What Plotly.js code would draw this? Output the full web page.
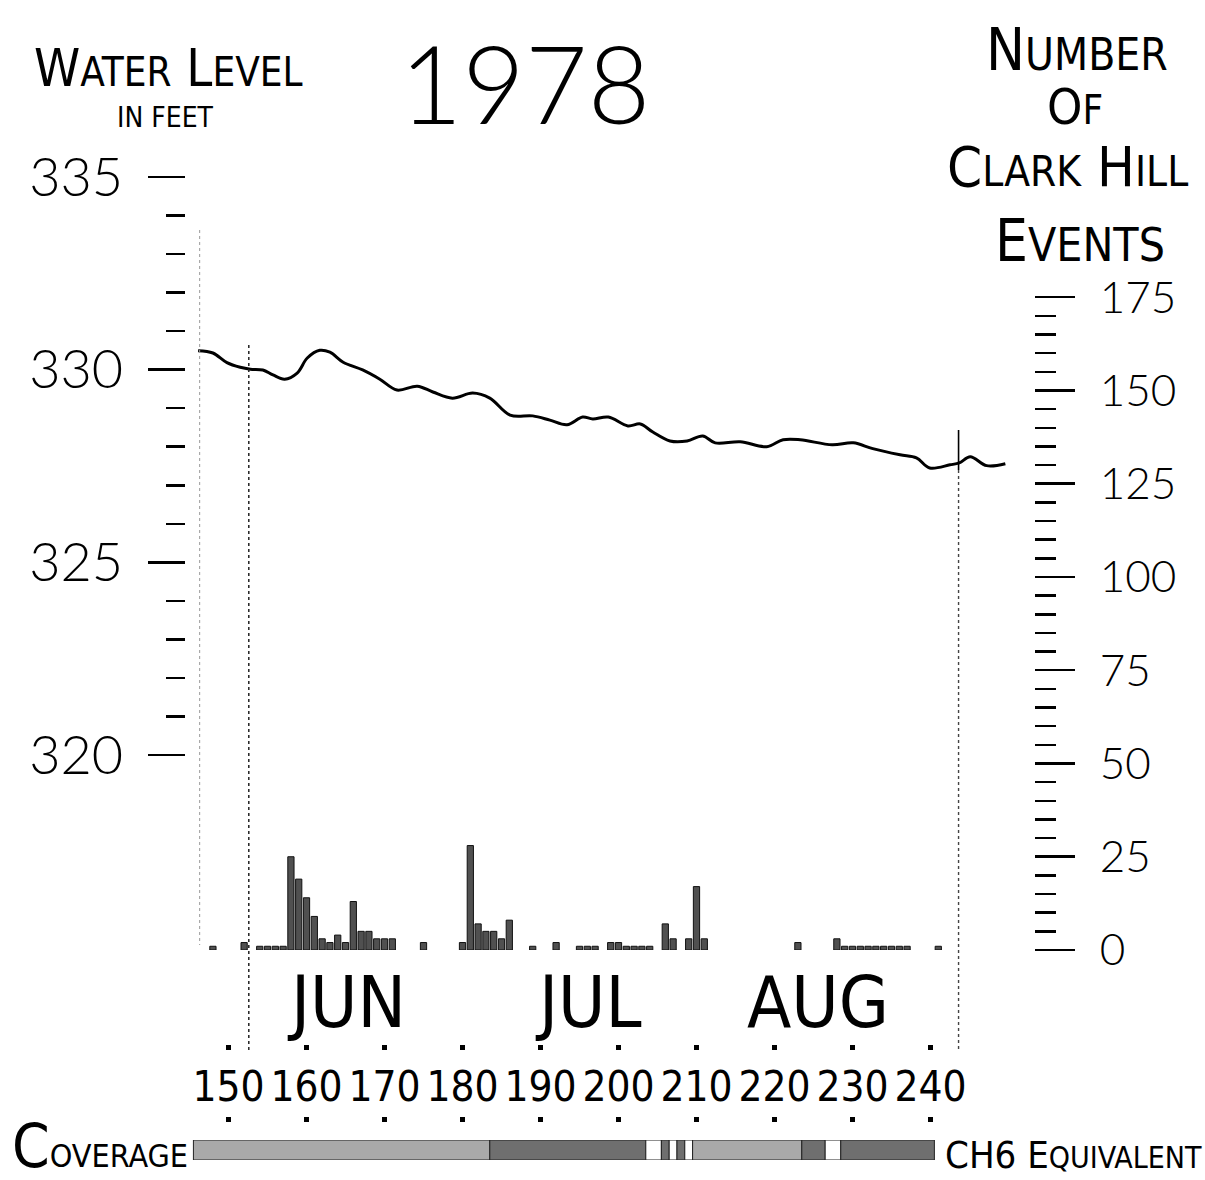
<!DOCTYPE html>
<html><head><meta charset="utf-8">
<script src="https://cdn.plot.ly/plotly-3.0.1.min.js"></script>
<style>html,body{margin:0;padding:0;background:#fff}</style>
</head><body>
<div id="chart" style="width:1205px;height:1180px"></div>
<script>
// ---- data (day of year 1978) ----
const levelDays = [146.1,148.0,149.8,151.5,152.8,154.4,155.7,157.2,158.8,160.1,161.7,163.0,164.7,167.2,169.4,171.6,174.2,176.2,178.7,181.3,183.5,186.1,189.0,191.2,193.4,195.4,196.7,198.7,201.2,202.8,204.4,206.6,208.8,210.8,212.4,215.6,219.0,221.1,223.3,227.4,230.1,232.6,236.1,238.2,239.9,242.5,243.7,245.1,247.2,249.6];
const levelFeet = [330.49,330.43,330.18,330.06,330.01,329.99,329.86,329.75,329.91,330.30,330.50,330.45,330.19,329.99,329.75,329.47,329.57,329.42,329.26,329.39,329.26,328.82,328.80,328.69,328.57,328.77,328.72,328.77,328.54,328.59,328.38,328.15,328.15,328.28,328.10,328.13,328.00,328.18,328.18,328.05,328.10,327.95,327.79,327.71,327.45,327.53,327.58,327.74,327.51,327.56];

const eventDays   = [148,152,154,155,156,157,158,159,160,161,162,163,164,165,166,167,168,169,170,171,175,180,181,182,183,184,185,186,189,192,195,196,197,199,200,201,202,203,204,206,207,209,210,211,223,228,229,230,231,232,233,234,235,236,237,241];
const eventCounts = [1,2,1,1,1,1,25,19,14,9,3,2,4,2,13,5,5,3,3,3,2,2,28,7,5,5,3,8,1,2,1,1,1,2,2,1,1,1,1,7,3,3,17,3,2,3,1,1,1,1,1,1,1,1,1,1];

// coverage strip segments (day edges) and kind
const coverageStart = [145.5,183.5,203.5,205.5,206.5,207.5,208.5,209.5,223.5,226.5,228.5];
const coverageEnd   = [183.5,203.5,205.5,206.5,207.5,208.5,209.5,223.5,226.5,228.5,240.5];
const coverageKind  = ['light','dark','none','dark','none','dark','none','light','dark','none','dark'];

const xTickVals = [150,160,170,180,190,200,210,220,230,240];
const xTickText = ['150','160','170','180','190','200','210','220','230','240'];
const monthNames = ['JUN','JUL','AUG'];
const guideDays = [146.3,152.6,243.6];

// ---- helpers ----
const W = 1205, H = 1180;
const px = x => x / W;
const py = y => 1 - y / H;
const HAND = "'Liberation Sans Narrow','DejaVu Sans Condensed','Arial Narrow',sans-serif";
const THIN = "Lato,'Open Sans','DejaVu Sans',sans-serif";
const xDomain = [px(185), px(1030)];
const xRange = [144.42, 252.76];

const kindColor = {light:'#a9a9a9', dark:'#6f6f6f', none:'#ffffff'};

const traces = [
  {
    type:'scatter', mode:'lines', x: levelDays, y: levelFeet,
    xaxis:'x', yaxis:'y',
    line:{color:'#000', width:3, shape:'spline', smoothing:1},
    cliponaxis:false, hoverinfo:'skip', showlegend:false
  },
  {
    type:'bar', x: eventDays, y: eventCounts, xaxis:'x2', yaxis:'y2',
    width:0.8,
    marker:{color:'#505050', line:{color:'#111', width:1}},
    hoverinfo:'skip', showlegend:false
  },
  {
    type:'bar',
    x: coverageStart.map((s,i)=> (s+coverageEnd[i])/2),
    y: coverageStart.map(()=>1),
    width: coverageStart.map((s,i)=> coverageEnd[i]-s),
    xaxis:'x3', yaxis:'y3',
    marker:{color: coverageKind.map(k=>kindColor[k]),
            line:{color:'#222', width:1}},
    hoverinfo:'skip', showlegend:false
  }
];

const dotAxis = (pos) => ({
  domain: xDomain, range: xRange, anchor:'free', position: pos,
  showline:false, showgrid:false, zeroline:false,
  tickmode:'array', tickvals: xTickVals, tickangle:0,
  ticks:'outside', ticklen:5, tickwidth:5, tickcolor:'#000'
});

const xaxis = Object.assign(dotAxis(py(1044)), {
  ticktext: xTickText, showticklabels:true, ticklabelstandoff:1,
  tickfont:{family:HAND, size:42, color:'#000'}
});
const xaxis3 = Object.assign(dotAxis(py(1116)), {
  showticklabels:false, overlaying:'x'
});

const shapes = [];
shapes.push({type:'line', xref:'x', yref:'paper', x0:guideDays[0], x1:guideDays[0], y0:py(230), y1:py(945),
  line:{color:'#999', width:1, dash:'dot'}});
shapes.push({type:'line', xref:'x', yref:'paper', x0:guideDays[1], x1:guideDays[1], y0:py(345), y1:py(1050),
  line:{color:'#222', width:1.5, dash:'dot'}});
shapes.push({type:'line', xref:'x', yref:'paper', x0:guideDays[2], x1:guideDays[2], y0:py(430), y1:py(470),
  line:{color:'#000', width:1.6}});
shapes.push({type:'line', xref:'x', yref:'paper', x0:guideDays[2], x1:guideDays[2], y0:py(470), y1:py(1050),
  line:{color:'#444', width:1.4, dash:'dot'}});

const sm = (t, s) => `<span style="font-size:${s}px">${t}</span>`;
const ann = (text, x, y, size, fam) => ({
  xref:'paper', yref:'paper', x: px(x), y: py(y), xanchor:'center', yanchor:'middle',
  text, showarrow:false, font:{family: fam || HAND, size, color:'#000'}
});

const annotations = [
  ann('W' + sm('ATER', 40) + ' L' + sm('EVEL', 40), 168, 68, 52),
  ann('IN FEET', 165, 118, 28),
  ann('N' + sm('UMBER', 44), 1077, 50, 58),
  ann('O' + sm('F', 40), 1075, 107, 50),
  ann('C' + sm('LARK', 42) + ' H' + sm('ILL', 42), 1067, 166, 56),
  ann('E' + sm('VENTS', 46), 1080, 241, 58),
  ann('C' + sm('OVERAGE', 32), 100, 1146, 60),
  ann('CH6 E' + sm('QUIVALENT', 30), 1073, 1155, 38),
  ann(monthNames[0], 347, 1002, 72),
  ann(monthNames[1], 588, 1002, 72),
  ann(monthNames[2], 818, 1002, 72)
];

const layout = {
  width: W, height: H,
  margin:{l:0, r:0, t:0, b:0},
  paper_bgcolor:'#fff', plot_bgcolor:'rgba(0,0,0,0)',
  showlegend:false, bargap:0,
  title:{text:'1978', x: px(525), y: py(86), xanchor:'center', yanchor:'middle',
         font:{family:THIN, size:108, color:'#000', weight:300}},
  xaxis: xaxis,
  xaxis2: {domain:xDomain, range:xRange, anchor:'y2', visible:false},
  xaxis3: xaxis3,
  yaxis: {
    domain:[py(756), py(176)], range:[319.98, 335.02], anchor:'free', position: px(185), side:'left',
    tickmode:'linear', tick0:320, dtick:5,
    ticks:'outside', ticklen:37, tickwidth:2.5, tickcolor:'#000',
    minor:{dtick:1, tick0:320, ticks:'outside', ticklen:19, tickwidth:2.5, tickcolor:'#000'},
    showline:false, showgrid:false, zeroline:false,
    ticklabelstandoff:14,
    tickfont:{family:THIN, size:54, color:'#000', weight:300}
  },
  yaxis2: {
    domain:[py(950), py(297)], range:[0, 175.05], anchor:'free', position: px(1034), side:'right',
    tickmode:'linear', tick0:0, dtick:25,
    ticks:'outside', ticklen:40, tickwidth:2.5, tickcolor:'#000',
    minor:{dtick:5, tick0:0, ticks:'outside', ticklen:21, tickwidth:2.5, tickcolor:'#000'},
    showline:false, showgrid:false, zeroline:false,
    ticklabelstandoff:16,
    tickfont:{family:THIN, size:44, color:'#000', weight:300}
  },
  yaxis3: {domain:[py(1160), py(1140)], range:[0,1], anchor:'x3', visible:false},
  shapes, annotations
};

Plotly.newPlot('chart', traces, layout, {staticPlot:true, displayModeBar:false});
</script>
</body></html>
